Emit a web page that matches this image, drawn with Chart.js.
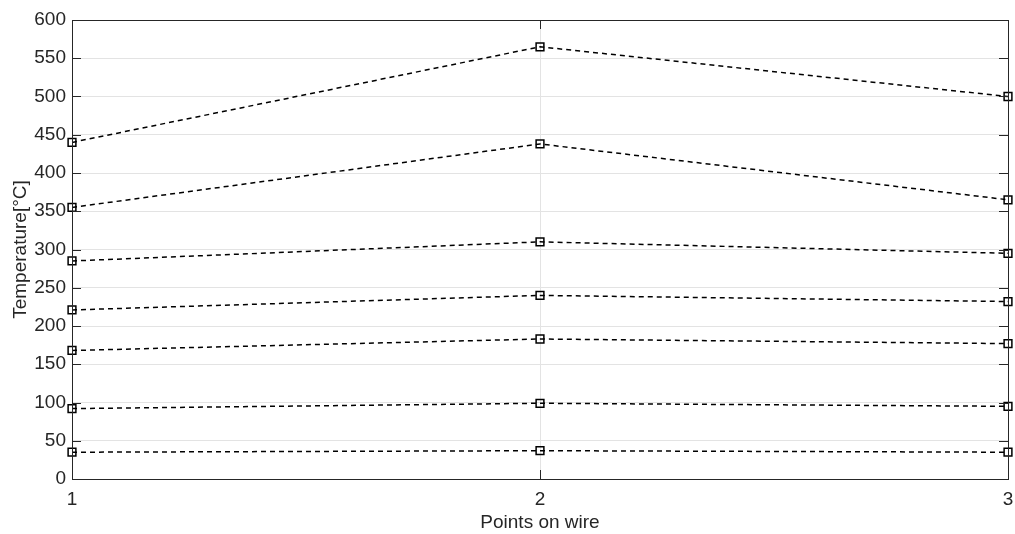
<!DOCTYPE html>
<html>
<head>
<meta charset="utf-8">
<script src="https://cdn.jsdelivr.net/npm/chart.js@4"></script>
<style>
  html, body { margin: 0; padding: 0; background: #fff; }
  #wrap { width: 1015px; height: 534px; }
</style>
</head>
<body>
<div id="wrap"><canvas id="tempGraph"></canvas></div>
<script>
// points along the wire
const points = [1, 2, 3];

// temperatures per curve (°C)
const curve1 = [440, 565, 500];
const curve2 = [355, 438, 365];
const curve3 = [285, 310, 295];
const curve4 = [221, 240, 232];
const curve5 = [168, 183, 177];
const curve6 = [92, 99, 95];
const curve7 = [35, 37, 35];

const curves = [curve1, curve2, curve3, curve4, curve5, curve6, curve7];
const axisColor = '#262626';
const fontFamily = '"Liberation Sans", Arial, sans-serif';

// MATLAB style box + inward ticks
const boxPlugin = {
    id: 'boxPlugin',
    afterDatasetsDraw(chart) {
        const ctx = chart.ctx;
        const area = chart.chartArea;
        const xs = chart.scales.x;
        const ys = chart.scales.y;
        const len = 9;
        ctx.save();
        ctx.strokeStyle = axisColor;
        ctx.lineWidth = 1;
        ctx.beginPath();
        ys.ticks.forEach(function(t) {
            let py = Math.round(ys.getPixelForValue(t.value)) + 0.5;
            ctx.moveTo(area.left, py);
            ctx.lineTo(area.left + len, py);
            ctx.moveTo(area.right, py);
            ctx.lineTo(area.right - len, py);
        });
        xs.ticks.forEach(function(t) {
            let px = Math.round(xs.getPixelForValue(t.value)) + 0.5;
            ctx.moveTo(px, area.top);
            ctx.lineTo(px, area.top + len);
            ctx.moveTo(px, area.bottom);
            ctx.lineTo(px, area.bottom - len);
        });
        ctx.stroke();
        ctx.strokeRect(Math.round(area.left) + 0.5, Math.round(area.top) + 0.5,
            Math.round(area.right - area.left), Math.round(area.bottom - area.top));
        ctx.restore();
    }
};

let datasets = curves.map(function(c, i) {
    return {
        label: 'Curve ' + (i + 1),
        data: points.map(function(p, j) { return { x: p, y: c[j] }; }),
        borderColor: '#000',
        borderWidth: 1.5,
        borderDash: [5, 4],
        pointStyle: 'rect',
        pointRadius: 5.5,
        pointBorderWidth: 1.5,
        pointBorderColor: '#000',
        pointBackgroundColor: 'rgba(0,0,0,0)',
        fill: false,
        clip: false
    };
});

let ctx = document.getElementById('tempGraph').getContext('2d');
new Chart(ctx, {
    type: 'line',
    data: { datasets: datasets },
    plugins: [boxPlugin],
    options: {
        responsive: true,
        maintainAspectRatio: false,
        animation: false,
        layout: { padding: { top: 20, right: 4, left: 0, bottom: 0 } },
        plugins: {
            legend: { display: false },
            tooltip: { enabled: false }
        },
        scales: {
            x: {
                type: 'linear',
                min: 1,
                max: 3,
                ticks: {
                    stepSize: 1,
                    color: axisColor,
                    padding: 9,
                    maxRotation: 0,
                    font: { family: fontFamily, size: 19 }
                },
                grid: { color: '#e3e3e3', drawTicks: false },
                border: { color: axisColor, width: 1 },
                title: {
                    display: true,
                    text: 'Points on wire',
                    color: axisColor,
                    padding: { top: 0, bottom: 0 },
                    font: { family: fontFamily, size: 19 }
                },
                afterFit: function(s) {
                    s.height = 55;
                    s.paddingLeft = 0;
                    s.paddingRight = 0;
                }
            },
            y: {
                min: 0,
                max: 600,
                ticks: {
                    stepSize: 50,
                    color: axisColor,
                    padding: 6,
                    font: { family: fontFamily, size: 19 }
                },
                grid: { color: '#e3e3e3', drawTicks: false },
                border: { color: axisColor, width: 1 },
                title: {
                    display: true,
                    text: 'Temperature[°C]',
                    color: axisColor,
                    padding: { top: 9, bottom: 0 },
                    font: { family: fontFamily, size: 19 }
                },
                afterFit: function(s) {
                    s.width = 72;
                    s.paddingTop = 0;
                    s.paddingBottom = 0;
                }
            }
        }
    }
});
</script>
</body>
</html>
